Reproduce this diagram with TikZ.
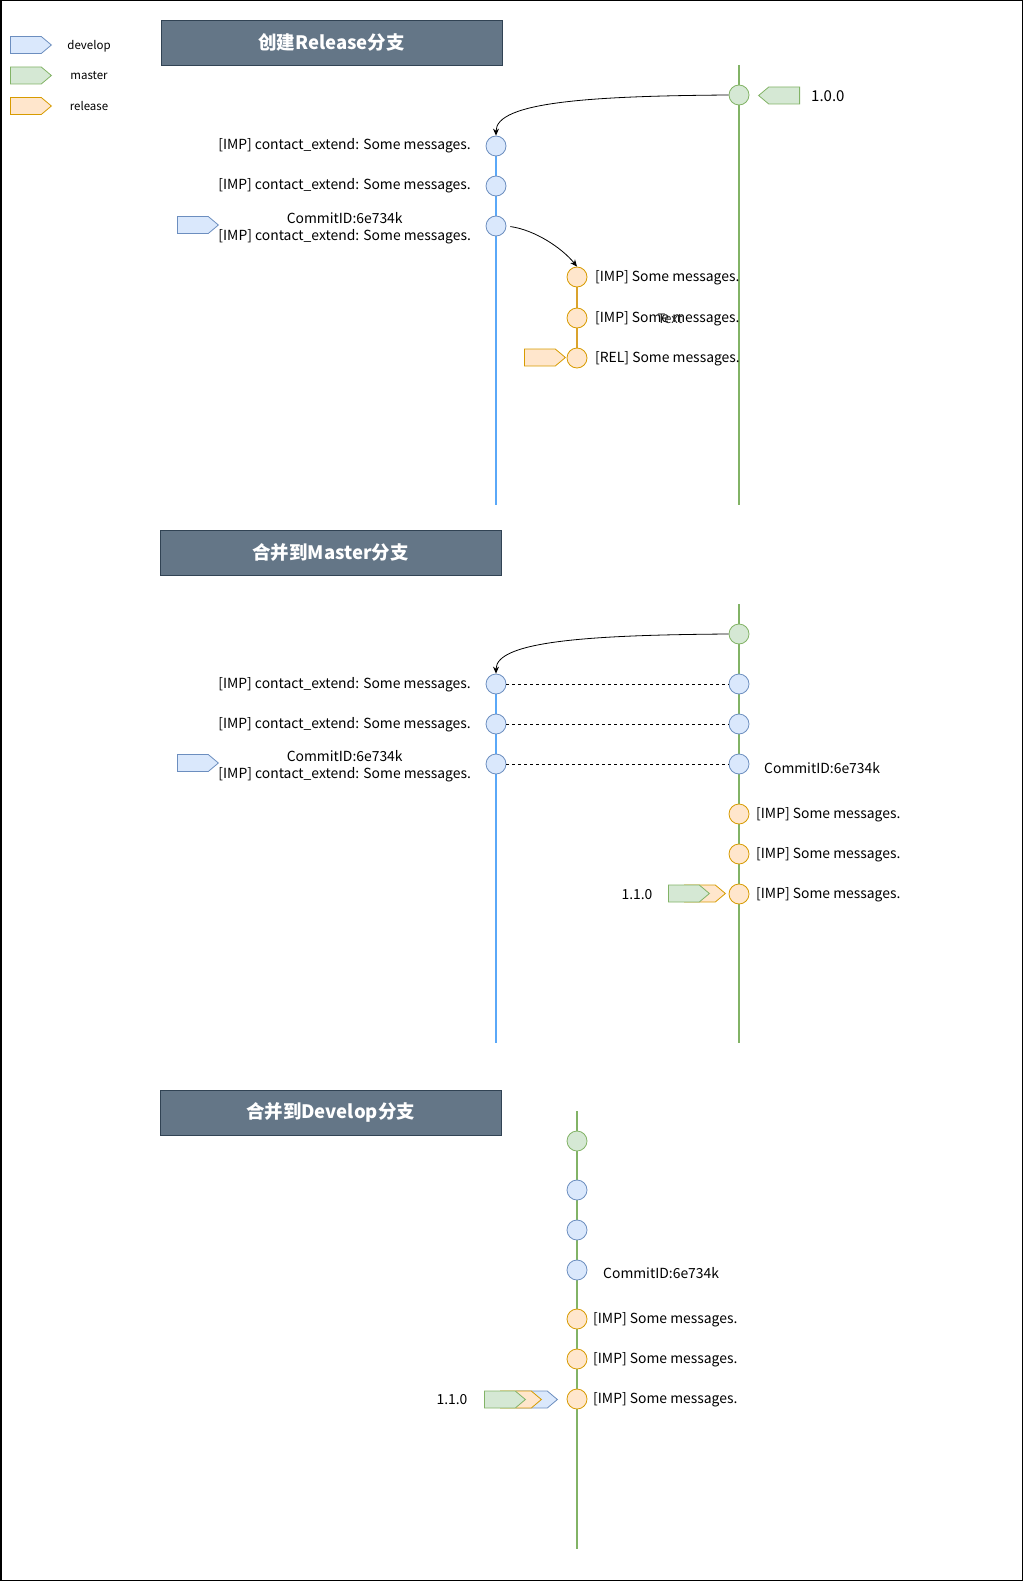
\documentclass[tikz,border=0pt]{standalone}
\usepackage{fontspec}
\setmainfont{Noto Sans CJK SC}
\usetikzlibrary{shapes.symbols,arrows.meta,backgrounds}

\definecolor{devF}{HTML}{DAE8FC}
\definecolor{devS}{HTML}{6C8EBF}
\definecolor{masF}{HTML}{D5E8D4}
\definecolor{masS}{HTML}{82B366}
\definecolor{relF}{HTML}{FFE6CC}
\definecolor{relS}{HTML}{D79B00}
\definecolor{devLine}{RGB}{90,168,248}
\definecolor{relLine}{RGB}{218,163,45}
\definecolor{titleF}{HTML}{647687}
\definecolor{titleS}{HTML}{314354}

\tikzset{
  x=1pt, y=-1pt,
  commit/.style={circle, minimum size=20pt, inner sep=0pt, line width=0.8pt},
  devc/.style={commit, draw=devS, fill=devF},
  masc/.style={commit, draw=masS, fill=masF},
  relc/.style={commit, draw=relS, fill=relF},
  tag/.style={signal, signal to=east, signal pointer angle=80, minimum width=41pt,
    minimum height=17pt, inner sep=0pt, line width=0.8pt, anchor=west},
  devtag/.style={tag, draw=devS, fill=devF},
  mastag/.style={tag, draw=masS, fill=masF},
  reltag/.style={tag, draw=relS, fill=relF},
  title/.style={draw=titleS, fill=titleF, line width=0.8pt, minimum width=341pt,
    minimum height=45pt, inner sep=0pt, text=white, font=\fontsize{18.5}{20}\selectfont\bfseries},
  msg/.style={inner sep=0pt, font=\fontsize{13.9}{17}\selectfont},
  legend/.style={inner sep=0pt, font=\fontsize{11.5}{13}\selectfont},
  devbranch/.style={draw=devLine, line width=2pt},
  masbranch/.style={draw=masS, line width=2pt},
  relbranch/.style={draw=relLine, line width=2pt},
  flow/.style={draw=black, line width=0.8pt, -{Stealth[length=7pt,width=6pt]}},
  link/.style={draw=black, line width=0.8pt, dash pattern=on 3pt off 3pt},
}

\begin{document}
\begin{tikzpicture}
\useasboundingbox (0,0) rectangle (1023,1581);
\draw[line width=1.5pt] (0.75,0.75) rectangle (1022.25,1580.25);

% ---------- legend ----------
\node[devtag] (lgDev) at (10,45) {};
\node[mastag] (lgMas) at (10,75.5) {};
\node[reltag] (lgRel) at (10,106) {};
\node[legend] (lgDevT) at (89,46) {develop};
\node[legend] (lgMasT) at (89,76) {master};
\node[legend] (lgRelT) at (89,106) {release};

% ---------- section 1: create release branch ----------
\node[title] (t1) at (331.5,42.5) {创建Release分支};

\coordinate (m1top) at (739,65);
\coordinate (m1bot) at (739,505);
\coordinate (d1bot) at (496,505);

\node[masc] (m10) at (739,95) {};
\node[mastag, signal to=west, anchor=east] (tag100) at (800,95.5) {};
\node[msg, anchor=west, font=\fontsize{15}{17}\selectfont] (v100) at (811,96) {1.0.0};

\node[devc] (d11) at (496,146) {};
\node[devc] (d12) at (496,186) {};
\node[devc] (d13) at (496,226) {};
\node[msg, anchor=east] (d11t) at (471,146) {[IMP] contact\_extend: Some messages.};
\node[msg, anchor=east] (d12t) at (471,186) {[IMP] contact\_extend: Some messages.};
\node[msg, align=center] (d13t) at (344.7,228) {CommitID:6e734k\\{}[IMP] contact\_extend: Some messages.};
\node[devtag] (dtag1) at (177,225) {};

\node[relc] (r11) at (577,277) {};
\node[relc] (r12) at (577,318) {};
\node[relc] (r13) at (577,358) {};
\node[msg, anchor=west] (r11t) at (595,278) {[IMP] Some messages.};
\node[msg, anchor=west] (r12t) at (595,319) {[IMP] Some messages.};
\node[msg, font=\fontsize{13}{15}\selectfont, text=black!85] (r12x) at (670,319) {Text};
\node[msg, anchor=west] (r13t) at (595,359) {[REL] Some messages.};
\node[reltag] (rtag1) at (524,357.5) {};

\begin{pgfonlayer}{background}
  \path[masbranch] (m1top) -- (m1bot);
  \path[devbranch] (d11.center) -- (d1bot);
  \path[relbranch] (r11.center) -- (r12.center) -- (r13.center);
\end{pgfonlayer}

\draw[flow] (m10.west) .. controls (590,96) and (496,102) .. (d11.north);
\draw[flow, shorten <=4pt] (d13.east) .. controls (535,230) and (562,248) .. (r11.north);

% ---------- section 2: merge into master ----------
\node[title] (t2) at (330.5,552.5) {合并到Master分支};

\coordinate (m2top) at (739,604);
\coordinate (m2bot) at (739,1043);
\coordinate (d2bot) at (496,1043);

\node[masc] (m20) at (739,634) {};
\node[devc] (d21) at (496,684) {};
\node[devc] (d22) at (496,724) {};
\node[devc] (d23) at (496,764) {};
\node[msg, anchor=east] (d21t) at (471,685) {[IMP] contact\_extend: Some messages.};
\node[msg, anchor=east] (d22t) at (471,725) {[IMP] contact\_extend: Some messages.};
\node[msg, align=center] (d23t) at (344.7,766) {CommitID:6e734k\\{}[IMP] contact\_extend: Some messages.};
\node[devtag] (dtag2) at (177,763) {};

\node[devc] (m21) at (739,684) {};
\node[devc] (m22) at (739,724) {};
\node[devc] (m23) at (739,764) {};
\node[msg, anchor=west] (m23t) at (764,768) {CommitID:6e734k};
\node[relc] (m24) at (739,814) {};
\node[relc] (m25) at (739,854) {};
\node[relc] (m26) at (739,894) {};
\node[msg, anchor=west] (m24t) at (756,815) {[IMP] Some messages.};
\node[msg, anchor=west] (m25t) at (756,855) {[IMP] Some messages.};
\node[msg, anchor=west] (m26t) at (756,895) {[IMP] Some messages.};
\node[reltag] (rtag2) at (684,893.5) {};
\node[mastag] (mtag2) at (668,893.5) {};
\node[msg, anchor=center] (v110a) at (637,895) {1.1.0};

\begin{pgfonlayer}{background}
  \path[masbranch] (m2top) -- (m2bot);
  \path[devbranch] (d21.center) -- (d2bot);
\end{pgfonlayer}

\draw[flow] (m20.west) .. controls (590,635) and (496,641) .. (d21.north);
\draw[link] (d21.east) -- (m21.west);
\draw[link] (d22.east) -- (m22.west);
\draw[link] (d23.east) -- (m23.west);

% ---------- section 3: merge into develop ----------
\node[title] (t3) at (330.5,1112.5) {合并到Develop分支};

\coordinate (l3top) at (577,1111);
\coordinate (l3bot) at (577,1549);

\node[masc] (c30) at (577,1141) {};
\node[devc] (c31) at (577,1190) {};
\node[devc] (c32) at (577,1230) {};
\node[devc] (c33) at (577,1270) {};
\node[msg, anchor=west] (c33t) at (603,1273) {CommitID:6e734k};
\node[relc] (c34) at (577,1319) {};
\node[relc] (c35) at (577,1359) {};
\node[relc] (c36) at (577,1399) {};
\node[msg, anchor=west] (c34t) at (593,1320) {[IMP] Some messages.};
\node[msg, anchor=west] (c35t) at (593,1360) {[IMP] Some messages.};
\node[msg, anchor=west] (c36t) at (593,1400) {[IMP] Some messages.};
\node[devtag] (dtag3) at (516,1399.5) {};
\node[reltag] (rtag3) at (500,1399.5) {};
\node[mastag] (mtag3) at (484,1399.5) {};
\node[msg, anchor=center] (v110b) at (452,1400) {1.1.0};

\begin{pgfonlayer}{background}
  \path[masbranch] (l3top) -- (l3bot);
\end{pgfonlayer}
\end{tikzpicture}
\end{document}
